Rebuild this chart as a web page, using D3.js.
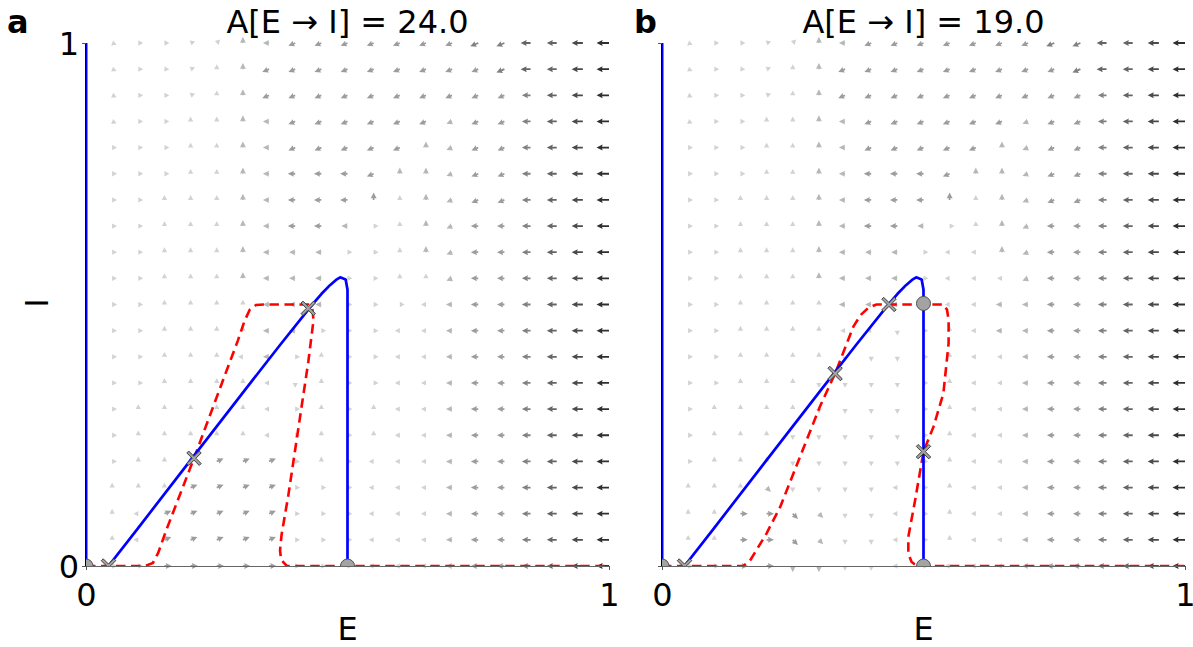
<!DOCTYPE html>
<html><head><meta charset="utf-8">
<script src="https://cdn.jsdelivr.net/npm/d3@7"></script>
<style>body{margin:0;background:#fff} text{font-family:"DejaVu Sans",sans-serif;fill:#000}</style>
</head><body><svg id="c" width="1193" height="647"></svg>
<script>
// ---------------- data ----------------
const panelLabels = ["a", "b"];
const titles = ["A[E \u2192 I] = 24.0", "A[E \u2192 I] = 19.0"];
const xTicks = [0, 1];
const yTicks = [0, 1];
const xLabel = "E";
const yLabel = "I";

// grid of the direction field
const gridE = [0.05,0.10,0.15,0.20,0.25,0.30,0.35,0.40,0.45,0.50,0.55,0.60,0.65,0.70,0.75,0.80,0.85,0.90,0.95,1.00];
const gridI = [1.00,0.95,0.90,0.85,0.80,0.75,0.70,0.65,0.60,0.55,0.50,0.45,0.40,0.35,0.30,0.25,0.20,0.15,0.10,0.05,0.00];

// each token: direction (hex digit, steps of 22.5 deg from +E, counter-clockwise) + magnitude (0-9)
const fieldA = [
"f1 01 01 11 21 42 82 93 93 93 93 93 93 93 94 94 85 85 86 87",
"f1 01 01 11 41 42 93 93 93 93 93 93 93 93 93 94 85 85 86 87",
"f1 01 01 11 41 42 93 93 93 93 93 93 93 93 93 93 84 85 86 87",
"f1 01 01 41 41 42 82 93 93 93 93 93 93 92 93 93 84 85 86 87",
"01 01 01 41 41 42 82 93 93 93 93 93 42 92 93 93 84 85 86 87",
"01 01 01 41 41 42 82 83 83 83 93 42 42 92 93 93 84 85 86 87",
"01 01 41 41 41 42 82 83 83 83 43 41 42 92 93 93 84 85 86 87",
"01 01 41 41 41 42 82 83 83 82 01 41 42 92 83 83 84 85 86 87",
"01 01 41 41 41 42 82 82 82 01 01 41 42 92 83 83 84 85 86 87",
"01 01 41 41 41 42 82 82 82 01 01 41 41 92 83 83 84 85 86 87",
"01 01 41 41 41 41 82 82 82 01 01 01 81 82 83 83 84 85 86 87",
"01 01 41 41 41 41 82 82 01 01 01 81 81 82 83 83 84 85 86 87",
"01 01 41 41 41 81 82 01 41 01 01 81 81 82 83 83 84 85 86 87",
"01 01 41 41 41 41 81 c1 41 01 01 81 81 82 83 83 84 85 86 87",
"01 41 41 41 41 41 81 01 41 01 41 81 81 82 83 83 84 85 86 87",
"01 41 41 41 41 41 81 01 41 01 41 81 81 82 83 83 84 85 86 87",
"01 41 41 41 13 13 13 01 41 01 81 81 81 82 83 83 84 85 86 87",
"41 41 41 13 13 13 13 01 01 01 81 81 81 82 83 83 84 85 86 87",
"41 81 13 13 13 13 13 01 01 01 81 81 81 82 83 83 84 85 86 87",
"41 81 13 13 13 13 13 01 01 01 81 81 81 82 83 83 84 85 86 87",
"01 01 03 03 03 03 03 01 01 01 81 81 81 82 83 83 84 85 86 87"
];
const fieldB = [
"f1 01 01 11 21 42 82 93 93 93 93 93 93 93 94 94 85 85 86 87",
"f1 01 01 11 41 42 93 93 93 93 93 93 93 93 93 94 85 85 86 87",
"f1 01 01 11 41 42 93 93 93 93 93 93 93 93 93 93 84 85 86 87",
"f1 01 01 41 41 42 82 93 93 93 93 93 93 92 93 93 84 85 86 87",
"01 01 01 41 41 42 82 93 93 93 93 93 42 92 93 93 84 85 86 87",
"01 01 01 41 41 42 82 83 83 83 93 42 42 92 93 93 84 85 86 87",
"01 01 41 41 41 42 82 83 83 83 43 41 42 92 93 93 84 85 86 87",
"01 01 41 41 41 42 82 83 83 82 01 41 42 92 83 83 84 85 86 87",
"01 01 41 41 41 42 82 82 82 01 81 81 42 92 83 83 84 85 86 87",
"01 01 41 41 41 42 82 82 82 01 81 81 81 92 83 83 84 85 86 87",
"01 01 41 41 41 41 82 82 82 01 81 81 82 82 83 83 84 85 86 87",
"01 01 41 41 41 41 81 81 c1 01 41 81 82 82 83 83 84 85 86 87",
"01 01 41 41 41 41 c1 c1 c1 01 41 81 81 82 83 83 84 85 86 87",
"01 01 41 41 41 c1 c1 c1 c1 01 41 81 81 82 83 83 84 85 86 87",
"01 41 41 41 41 c1 c1 c1 c1 01 41 81 81 82 83 83 84 85 86 87",
"01 41 41 41 c1 c1 c1 c1 c1 01 41 81 81 82 83 83 84 85 86 87",
"01 41 41 41 c1 c1 c1 c1 c1 01 41 81 81 82 83 83 84 85 86 87",
"41 41 41 e2 c1 c1 c1 c1 81 01 41 81 81 82 83 83 84 85 86 87",
"41 41 03 03 e3 e2 c1 c1 81 01 41 81 81 82 83 83 84 85 86 87",
"41 41 03 03 e3 e2 c1 c1 81 01 41 81 81 82 83 83 84 85 86 87",
"01 01 03 03 c2 c2 c1 c1 81 01 81 81 81 82 83 83 84 85 86 87"
];

// E-nullcline (blue), identical in both panels
const eNullE = [0.043, 0.10, 0.20, 0.30, 0.371, 0.4346, 0.45, 0.4665, 0.478, 0.486, 0.4965, 0.50, 0.50];
const eNullI = [0.000, 0.073, 0.2025, 0.3315, 0.4226, 0.502, 0.52, 0.537, 0.547, 0.552, 0.548, 0.528, 0.000];
const eAxisE = [0, 0];
const eAxisI = [0, 1];

// I-nullclines (red dashed)
const iNullAE = [0, 0.113, 0.128, 0.138, 0.154, 0.2065, 0.26, 0.29, 0.303, 0.313, 0.325, 0.34, 0.425, 0.433, 0.435, 0.425, 0.406, 0.387, 0.374, 0.371, 0.373, 0.384, 1];
const iNullAI = [0, 0, 0.006, 0.025, 0.07, 0.206, 0.35, 0.43, 0.468, 0.49, 0.499, 0.5, 0.5, 0.49, 0.47, 0.39, 0.263, 0.136, 0.06, 0.03, 0.012, 0, 0];
const iNullBE = [0, 0.155, 0.168, 0.181, 0.2, 0.226, 0.302, 0.331, 0.366, 0.38, 0.395, 0.41, 0.538, 0.545, 0.548, 0.548, 0.538, 0.519, 0.5, 0.484, 0.471, 0.471, 0.477, 0.487, 1];
const iNullBI = [0, 0, 0.01, 0.031, 0.0625, 0.113, 0.305, 0.368, 0.458, 0.48, 0.494, 0.5, 0.5, 0.49, 0.47, 0.426, 0.33, 0.266, 0.2186, 0.126, 0.056, 0.024, 0.008, 0, 0];

// fixed points
const stableAE = [0, 0.5];
const stableAI = [0, 0];
const unstableAE = [0.043, 0.2065, 0.425];
const unstableAI = [0, 0.206, 0.4927];
const stableBE = [0, 0.5, 0.5];
const stableBI = [0, 0, 0.502];
const unstableBE = [0.043, 0.331, 0.434, 0.5];
const unstableBI = [0, 0.368, 0.5, 0.2186];

// ---------------- drawing ----------------
const svg = d3.select("#c");
const panels = [
  {x0: 86, x1: 609, lx: 7, label: panelLabels[0], title: titles[0], field: fieldA, yLabels: true,
   rE: iNullAE, rI: iNullAI, sE: stableAE, sI: stableAI, uE: unstableAE, uI: unstableAI},
  {x0: 662, x1: 1185, lx: 634, label: panelLabels[1], title: titles[1], field: fieldB, yLabels: false,
   rE: iNullBE, rI: iNullBI, sE: stableBE, sI: stableBI, uE: unstableBE, uI: unstableBI}
];
const yTop = 43, yBot = 566;
const FS = 32;
const y = d3.scaleLinear().domain([0, 1]).range([yBot, yTop]);
const lenScale = d3.scaleLinear().domain([0, 9]).range([3.6, 15]);
const colScale = d3.scaleLinear().domain([1, 8]).range(["#d2d2d2", "#141414"]);

function arrowPoints(L) {
  const hl = 5.5, hw = 3, sw = 0.9;
  if (L <= hl) {
    const s = L / hl;
    return [[0, -hw * s], [L, 0], [0, hw * s]];
  }
  return [[0, -sw], [L - hl, -sw], [L - hl - 0.6, -hw], [L, 0], [L - hl - 0.6, hw], [L - hl, sw], [0, sw]];
}

panels.forEach((p, pi) => {
  const x = d3.scaleLinear().domain([0, 1]).range([p.x0, p.x1]);
  const g = svg.append("g");
  const clipId = "clip" + pi;
  svg.append("clipPath").attr("id", clipId).append("rect")
    .attr("x", p.x0).attr("y", yTop - 20).attr("width", p.x1 - p.x0 + 20).attr("height", yBot - yTop + 20);

  // vector field
  const arrows = [];
  p.field.forEach((row, ri) => {
    row.trim().split(/\s+/).forEach((tok, ci) => {
      const dir = parseInt(tok[0], 16), mag = +tok[1];
      arrows.push({E: gridE[ci], I: gridI[ri], dir, mag});
    });
  });
  g.append("g").selectAll("path").data(arrows).join("path")
    .attr("d", d => {
      const pts = arrowPoints(lenScale(d.mag));
      return "M" + pts.map(q => q.join(",")).join("L") + "Z";
    })
    .attr("transform", d => `translate(${x(d.E)},${y(d.I)}) rotate(${-d.dir * 22.5})`)
    .attr("fill", d => colScale(d.mag));

  const line = d3.line().x(d => x(d[0])).y(d => y(d[1]));
  const plot = g.append("g").attr("clip-path", `url(#${clipId})`);

  // red dashed I-nullcline
  plot.append("path").datum(p.rE.map((e, i) => [e, p.rI[i]]))
    .attr("d", line).attr("fill", "none").attr("stroke", "#ff0000")
    .attr("stroke-width", 2.6).attr("stroke-dasharray", "9.5,5.5");

  // blue E-nullcline
  plot.append("path").datum(eAxisE.map((e, i) => [e, eAxisI[i]]))
    .attr("d", line).attr("fill", "none").attr("stroke", "#0000ff").attr("stroke-width", 3);
  plot.append("path").datum(eNullE.map((e, i) => [e, eNullI[i]]))
    .attr("d", line).attr("fill", "none").attr("stroke", "#0000ff").attr("stroke-width", 2.7)
    .attr("stroke-linejoin", "round");

  // fixed points
  plot.selectAll("circle.s").data(p.sE.map((e, i) => [e, p.sI[i]])).join("circle")
    .attr("cx", d => x(d[0])).attr("cy", d => y(d[1])).attr("r", 7)
    .attr("fill", "#a3a3a3").attr("stroke", "#505050").attr("stroke-width", 1);
  const a = 7.2, w = 1.9;
  const xPath = `M${-a+w},${-a} L0,${-w} L${a-w},${-a} L${a},${-a+w} L${w},0 L${a},${a-w} L${a-w},${a} L0,${w} L${-a+w},${a} L${-a},${a-w} L${-w},0 L${-a},${-a+w} Z`;
  plot.selectAll("path.u").data(p.uE.map((e, i) => [e, p.uI[i]])).join("path")
    .attr("d", xPath)
    .attr("transform", d => `translate(${x(d[0])},${y(d[1])})`)
    .attr("fill", "#a3a3a3").attr("stroke", "#404040").attr("stroke-width", 1);

  // spines
  g.append("line").attr("x1", p.x0).attr("x2", p.x1).attr("y1", yBot + 0.5).attr("y2", yBot + 0.5)
    .attr("stroke", "#666").attr("stroke-width", 1);
  g.append("line").attr("x1", p.x0 - 0.5).attr("x2", p.x0 - 0.5).attr("y1", yTop).attr("y2", yBot)
    .attr("stroke", "#000").attr("stroke-width", 1);

  // axes ticks
  const xAxis = d3.axisBottom(x).tickValues(xTicks).tickFormat(d3.format("d")).tickSize(4);
  const ax = g.append("g").attr("transform", `translate(0,${yBot})`).call(xAxis);
  ax.select(".domain").remove();
  ax.selectAll("line").attr("stroke", "#555");
  ax.selectAll("text").attr("font-size", FS).attr("font-family", "DejaVu Sans")
    .attr("y", 40).attr("dy", 0).attr("fill", "#000");
  const yAxis = d3.axisLeft(y).tickValues(yTicks)
    .tickFormat(p.yLabels ? d3.format("d") : () => "").tickSize(4).tickPadding(3);
  const ay = g.append("g").attr("transform", `translate(${p.x0},0)`).call(yAxis);
  ay.select(".domain").remove();
  ay.selectAll("line").attr("stroke", "#555");
  ay.selectAll("text").attr("font-size", FS).attr("font-family", "DejaVu Sans").attr("dy", "0.36em")
    .attr("fill", "#000");

  // labels
  g.append("text").attr("x", (p.x0 + p.x1) / 2).attr("y", 33).attr("text-anchor", "middle")
    .attr("font-size", FS).text(p.title);
  g.append("text").attr("x", p.lx).attr("y", 33).attr("font-size", FS).attr("font-weight", "bold")
    .text(p.label);
  g.append("text").attr("x", (p.x0 + p.x1) / 2).attr("y", 640).attr("text-anchor", "middle")
    .attr("font-size", FS).text(xLabel);
  if (pi === 0) {
    g.append("text").attr("transform", `translate(48,303) rotate(-90)`).attr("text-anchor", "middle")
      .attr("font-size", FS).text(yLabel);
  }
});
</script></body></html>
